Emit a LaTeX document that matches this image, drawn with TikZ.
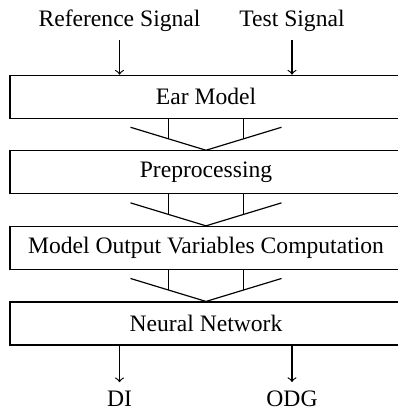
\documentclass[tikz,border=0pt]{standalone}
\usepackage{fontspec}
\setmainfont{Liberation Serif}
\usetikzlibrary{calc}
\begin{document}
\begin{tikzpicture}[x=0.4237pt,y=-0.4237pt,
  blk/.style={draw,line width=0.5pt,minimum width=166.1pt,minimum height=18.2pt,inner sep=0pt,font=\fontsize{10}{12}\selectfont},
  lbl/.style={anchor=base,font=\fontsize{10}{12}\selectfont},
  conn/.style={line width=0.5pt},
  arr/.style={line width=0.5pt,->}]
\useasboundingbox (0,0) rectangle (398,410);
\node[lbl] (ref) at (119.5,26.7) {Reference Signal};
\node[lbl] (test) at (292,26.7) {Test Signal};
\node[blk] (ear) at (206,96.7) {Ear Model};
\node[blk] (pre) at (206,172.3) {Preprocessing};
\node[blk] (mov) at (206,247.9) {Model Output Variables Computation};
\node[blk] (nn) at (206,323.5) {Neural Network};
\node[lbl] (di) at (119.5,406) {DI};
\node[lbl] (odg) at (292,406) {ODG};
\draw[arr] (ref.south) -- (ref.south |- ear.north);
\draw[arr] (test.south) -- (test.south |- ear.north);
\draw[arr] (di.north |- nn.south) -- (di.north);
\draw[arr] (odg.north |- nn.south) -- (odg.north);
\foreach \a/\b in {ear/pre,pre/mov,mov/nn}{
  \coordinate (L\a) at ($(\a.south)+(-75.5,8.5)$);
  \coordinate (R\a) at ($(\a.south)+(75.5,8.5)$);
  \coordinate (ML\a) at ($(L\a)!0.5!(\b.north)$);
  \coordinate (MR\a) at ($(R\a)!0.5!(\b.north)$);
  \draw[conn] (L\a) -- (\b.north) -- (R\a);
  \draw[conn] (ML\a |- \a.south) -- (ML\a);
  \draw[conn] (MR\a |- \a.south) -- (MR\a);
}
\end{tikzpicture}
\end{document}
